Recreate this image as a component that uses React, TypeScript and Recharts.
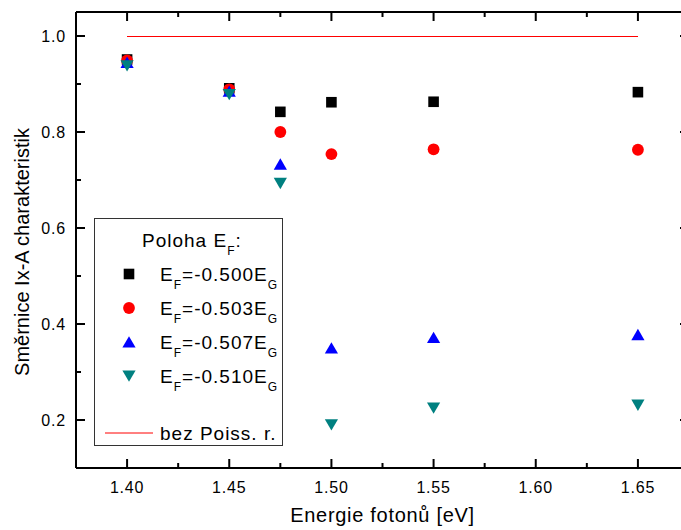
import { ScatterChart, Scatter, XAxis, YAxis, Legend } from "recharts"

const energies = [1.40, 1.45, 1.475, 1.50, 1.55, 1.65]
const ef500 = [0.951, 0.891, 0.842, 0.862, 0.863, 0.883]
const ef503 = [0.949, 0.889, 0.800, 0.754, 0.764, 0.763]
const ef507 = [0.945, 0.885, 0.733, 0.350, 0.372, 0.378]
const ef510 = [0.938, 0.878, 0.693, 0.190, 0.225, 0.231]

const poissonX = [1.40, 1.65]
const poissonY = [1.0, 1.0]

const xTicks = [1.40, 1.425, 1.45, 1.475, 1.50, 1.525, 1.55, 1.575, 1.60, 1.625, 1.65]
const yTicks = [0.2, 0.3, 0.4, 0.5, 0.6, 0.7, 0.8, 0.9, 1.0]

const FONT = '"Liberation Sans", Arial, sans-serif'

const SERIES = [
  { key: "ef500", label: "-0.500", values: ef500, color: "#000000", kind: "square" },
  { key: "ef503", label: "-0.503", values: ef503, color: "#ff0000", kind: "circle" },
  { key: "ef507", label: "-0.507", values: ef507, color: "#0000ff", kind: "up" },
  { key: "ef510", label: "-0.510", values: ef510, color: "#008080", kind: "down" },
]

const toPoints = (xs: number[], ys: number[]) => xs.map((x, i) => ({ x, y: ys[i] }))

function Marker({ kind, cx, cy, color }: { kind: string; cx: number; cy: number; color: string }) {
  if (kind === "square")
    return <rect x={cx - 5.3} y={cy - 5.3} width={10.6} height={10.6} fill={color} />
  if (kind === "circle") return <circle cx={cx} cy={cy} r={5.9} fill={color} />
  if (kind === "up")
    return (
      <polygon
        points={`${cx},${cy - 5.8} ${cx + 6.6},${cy + 5.6} ${cx - 6.6},${cy + 5.6}`}
        fill={color}
      />
    )
  return (
    <polygon
      points={`${cx - 6.6},${cy - 5.6} ${cx + 6.6},${cy - 5.6} ${cx},${cy + 5.8}`}
      fill={color}
    />
  )
}

const isMajor = (v: number, step: number) => Math.abs(v / step - Math.round(v / step)) < 1e-6

function BottomTick({ x, y, payload }: any) {
  const major = isMajor(payload.value, 0.05)
  return (
    <g>
      <line x1={x} x2={x} y1={y} y2={y - (major ? 9 : 5)} stroke="#000" strokeWidth={2} />
      {major && (
        <text x={x} y={y + 19} textAnchor="middle" dominantBaseline="central"
          fontFamily={FONT} fontSize={16} letterSpacing={0.8} fill="#000">
          {payload.value.toFixed(2)}
        </text>
      )}
    </g>
  )
}

function TopTick({ x, y, payload }: any) {
  const major = isMajor(payload.value, 0.05)
  return <line x1={x} x2={x} y1={y} y2={y + (major ? 9 : 5)} stroke="#000" strokeWidth={2} />
}

function LeftTick({ x, y, payload }: any) {
  const major = isMajor(payload.value, 0.2)
  return (
    <g>
      <line x1={x} x2={x + (major ? 9 : 5)} y1={y} y2={y} stroke="#000" strokeWidth={2} />
      {major && (
        <text x={x - 10} y={y} textAnchor="end" dominantBaseline="central"
          fontFamily={FONT} fontSize={16} letterSpacing={0.8} fill="#000">
          {payload.value.toFixed(1)}
        </text>
      )}
    </g>
  )
}

function RightTick({ x, y, payload }: any) {
  const major = isMajor(payload.value, 0.2)
  return <line x1={x} x2={x - (major ? 9 : 5)} y1={y} y2={y} stroke="#000" strokeWidth={2} />
}

function XTitle({ viewBox }: any) {
  const { x, width } = viewBox
  return (
    <text x={x + width / 2} y={522} textAnchor="middle" fontFamily={FONT} fontSize={20}
      letterSpacing={0.7} fill="#000">
      Energie fotonů [eV]
    </text>
  )
}

function YTitle({ viewBox }: any) {
  const cy = viewBox.y + viewBox.height / 2 + 12
  return (
    <text transform={`translate(29,${cy}) rotate(-90)`} textAnchor="middle"
      fontFamily={FONT} fontSize={20} fill="#000">
      Směrnice Ix-A charakteristik
    </text>
  )
}

function LegendBox() {
  const rows = [56, 90, 124, 158]
  return (
    <div style={{ width: 189, height: 228, border: "1px solid #333", background: "#fff", boxSizing: "border-box" }}>
      <svg width={187} height={226} style={{ display: "block" }}>
        <g transform="translate(-1,-1)" fontFamily={FONT} fill="#000" letterSpacing={1}>
          <text x={48} y={29} fontSize={19}>
            Poloha E<tspan fontSize={12} dy={8}>F</tspan><tspan dy={-8}>:</tspan>
          </text>
          {SERIES.map((s, i) => (
            <g key={s.key}>
              <Marker kind={s.kind} cx={35} cy={rows[i]} color={s.color} />
              <text x={66} y={rows[i] + 7} fontSize={19}>
                E<tspan fontSize={12} dy={8}>F</tspan>
                <tspan dy={-8}>={s.label}E</tspan>
                <tspan fontSize={12} dy={8}>G</tspan>
              </text>
            </g>
          ))}
          <line x1={11} x2={59} y1={215} y2={215} stroke="#ff0000" strokeWidth={1} />
          <text x={66} y={222} fontSize={19}>bez Poiss. r.</text>
        </g>
      </svg>
    </div>
  )
}

export default function App() {
  return (
    <div style={{ position: "absolute", left: 0, top: 0, width: 681, height: 530, overflow: "hidden", background: "#fff" }}>
      <ScatterChart width={700} height={530} margin={{ top: 0, right: 0, bottom: 0, left: 0 }}>
        <XAxis
          xAxisId={0}
          type="number"
          dataKey="x"
          domain={[1.375, 1.675]}
          ticks={xTicks}
          interval={0}
          allowDataOverflow
          height={62}
          orientation="bottom"
          axisLine={{ stroke: "#000", strokeWidth: 2 }}
          tickLine={false}
          tickSize={0}
          tickMargin={0}
          tick={<BottomTick />}
          label={<XTitle />}
        />
        <XAxis
          xAxisId="top"
          type="number"
          dataKey="x"
          domain={[1.375, 1.675]}
          ticks={xTicks}
          interval={0}
          allowDataOverflow
          height={12}
          orientation="top"
          axisLine={{ stroke: "#000", strokeWidth: 2 }}
          tickLine={false}
          tickSize={0}
          tickMargin={0}
          tick={<TopTick />}
        />
        <YAxis
          yAxisId={0}
          type="number"
          dataKey="y"
          domain={[0.1, 1.05]}
          ticks={yTicks}
          interval={0}
          allowDataOverflow
          width={76}
          orientation="left"
          axisLine={{ stroke: "#000", strokeWidth: 2 }}
          tickLine={false}
          tickSize={0}
          tickMargin={0}
          tick={<LeftTick />}
          label={<YTitle />}
        />
        <YAxis
          yAxisId="right"
          type="number"
          dataKey="y"
          domain={[0.1, 1.05]}
          ticks={yTicks}
          interval={0}
          allowDataOverflow
          width={11}
          orientation="right"
          axisLine={{ stroke: "#000", strokeWidth: 2 }}
          tickLine={false}
          tickSize={0}
          tickMargin={0}
          tick={<RightTick />}
        />
        <Scatter
          name="bez Poiss. r."
          data={toPoints(poissonX, poissonY)}
          line={{ stroke: "#ff0000", strokeWidth: 1, shapeRendering: "crispEdges" }}
          shape={() => <g />}
          isAnimationActive={false}
        />
        {SERIES.map((s) => (
          <Scatter
            key={s.key}
            name={s.label}
            data={toPoints(energies, s.values)}
            fill={s.color}
            shape={(p: any) => <Marker kind={s.kind} cx={p.cx} cy={p.cy} color={s.color} />}
            isAnimationActive={false}
          />
        ))}
        <Legend
          layout="vertical"
          align="center"
          verticalAlign="middle"
          wrapperStyle={{ left: 94, top: 218, width: 189, height: 228 }}
          content={() => <LegendBox />}
        />
      </ScatterChart>
    </div>
  )
}
